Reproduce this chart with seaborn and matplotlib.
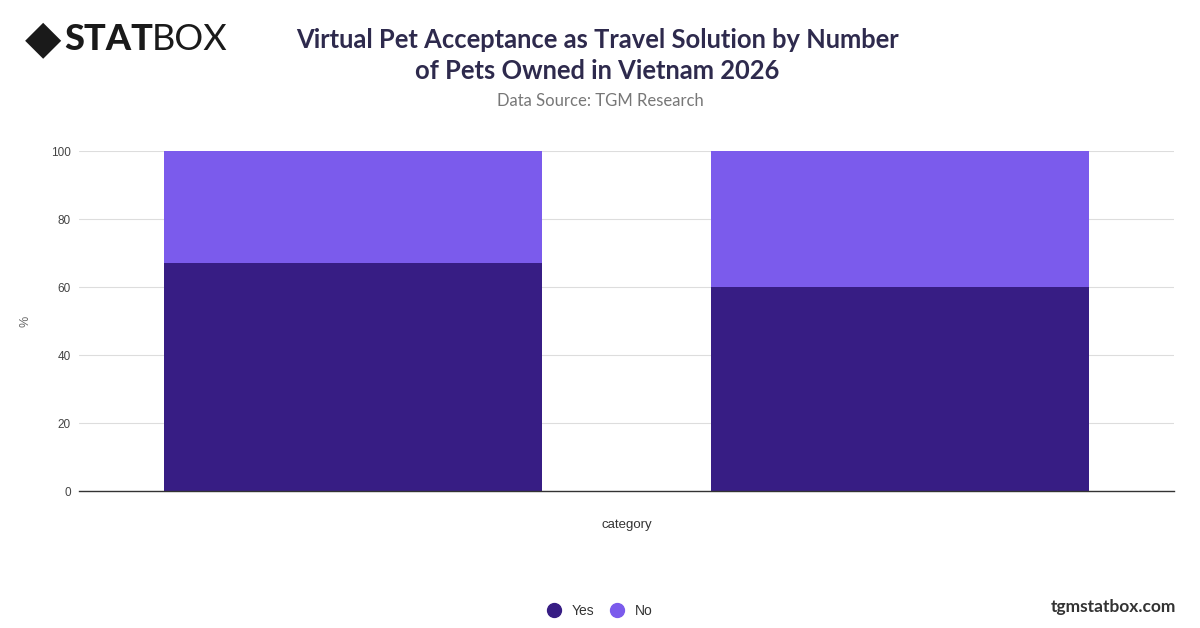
import pandas as pd
import matplotlib.pyplot as plt
import seaborn as sns
from matplotlib.lines import Line2D

# data
categories = ["1 pet", "2+ pets"]
yes_values = [67, 60]
no_values = [33, 40]
series_names = ["Yes", "No"]
yticks = [0, 20, 40, 60, 80, 100]

yes_color = "#371d84"
no_color = "#7b5bec"

sns.set_theme(style="white")
plt.rcParams['font.family'] = ['Lato', 'DejaVu Sans']

df = pd.DataFrame({"category": categories, "Yes": yes_values, "No": no_values})
df["total"] = df["Yes"] + df["No"]

fig = plt.figure(figsize=(12, 6.28), dpi=100)
ax = fig.add_axes([79 / 1200, 137 / 628, (1174 - 79) / 1200, 340 / 628])

# stacked bars: total drawn in the "No" colour, "Yes" drawn over it
sns.barplot(data=df, x="category", y="total", color=no_color, width=0.69,
            saturation=1, linewidth=0, ax=ax, zorder=2)
sns.barplot(data=df, x="category", y="Yes", color=yes_color, width=0.69,
            saturation=1, linewidth=0, ax=ax, zorder=3)

ax.set_xlim(-0.5, 1.5)
ax.set_ylim(0, 100)
ax.set_yticks(yticks)
ax.set_yticklabels([str(t) for t in yticks], fontsize=8.5, color="#444444",
                   family=["Liberation Sans", "DejaVu Sans"])
ax.tick_params(axis="y", length=0, pad=6)
ax.set_xticks([])
ax.grid(axis="y", color="#dddddd", linewidth=0.8, zorder=0)
for s in ["top", "right", "left"]:
    ax.spines[s].set_visible(False)
ax.spines["bottom"].set_color("#333333")
ax.spines["bottom"].set_linewidth(1)
ax.spines["bottom"].set_zorder(5)
ax.set_xlabel("category", fontsize=9.5, color="#333333", labelpad=20,
              family=["Liberation Sans", "DejaVu Sans"])
ax.set_ylabel("%", fontsize=9, color="#666666",
              family=["Liberation Sans", "DejaVu Sans"])
ax.yaxis.set_label_coords(-0.043, 0.5)

# titles
fig.text(0.4975, 1 - 40 / 628, "Virtual Pet Acceptance as Travel Solution by Number",
         ha="center", va="center", fontsize=18.4, fontweight="bold", color="#2e2a4d")
fig.text(0.4975, 1 - 71 / 628, "of Pets Owned in Vietnam 2026",
         ha="center", va="center", fontsize=18.4, fontweight="bold", color="#2e2a4d")
fig.text(0.5, 1 - 101 / 628, "Data Source: TGM Research",
         ha="center", va="center", fontsize=12, color="#777777")

# logo
fig.text(25 / 1200, 1 - 40 / 628, "\u25C6", ha="left", va="center",
         fontsize=34, color="#1a1a1a", family="DejaVu Sans")
fig.text(64 / 1200, 1 - 40 / 628, "STAT", ha="left", va="center",
         fontsize=26, fontweight="black", color="#1a1a1a")
fig.text(152 / 1200, 1 - 40 / 628, "BOX", ha="left", va="center",
         fontsize=26, fontweight="normal", color="#1a1a1a")

# legend
handles = [Line2D([], [], marker="o", linestyle="", markersize=10, color=yes_color),
           Line2D([], [], marker="o", linestyle="", markersize=10, color=no_color)]
fig.legend(handles, series_names, loc="center", bbox_to_anchor=(0.497, 1 - 611 / 628),
           ncol=2, frameon=False, fontsize=10, handletextpad=0.3, columnspacing=0.6,
           labelcolor="#333333", prop={"family": ["Liberation Sans", "DejaVu Sans"], "size": 10})

fig.text(1176 / 1200, 1 - 607 / 628, "tgmstatbox.com", ha="right", va="center",
         fontsize=12.5, fontweight="bold", color="#333333")

fig.savefig("out.png", dpi=100)
